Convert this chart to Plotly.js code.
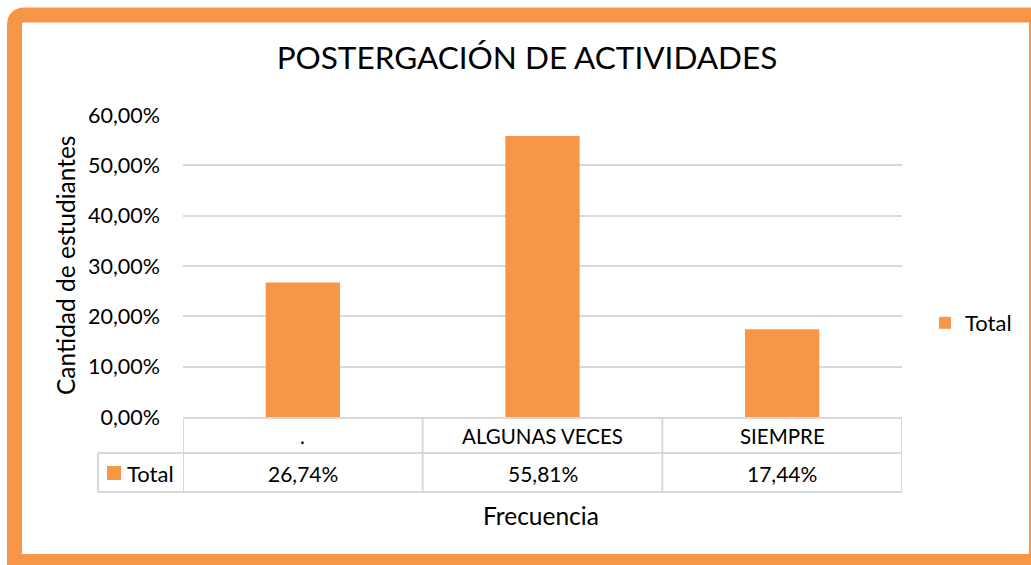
<!DOCTYPE html>
<html><head><meta charset="utf-8">
<script src="https://cdn.plot.ly/plotly-3.0.1.min.js"></script>
<style>html,body{margin:0;padding:0;background:#fff;}#chart{width:1031px;height:565px;}</style>
</head><body><div id="chart"></div>
<script>
const chartTitle = "POSTERGACIÓN DE ACTIVIDADES";
const categories = [".", "ALGUNAS VECES", "SIEMPRE"];
const seriesName = "Total";
const values = [0.2674, 0.5581, 0.1744];
const valueLabels = ["26,74%", "55,81%", "17,44%"];
const yTickVals = [0, 0.1, 0.2, 0.3, 0.4, 0.5, 0.6];
const yTickText = ["0,00%", "10,00%", "20,00%", "30,00%", "40,00%", "50,00%", "60,00%"];
const yTitle = "Cantidad de estudiantes";
const xTitle = "Frecuencia";

const W = 1031, H = 565;
const L = 183, R = 902, T = 115, B = 417;
const px = v => (v - L) / (R - L);
const py = v => (B - v) / (B - T);
const ORANGE = "#F79646";
const GRID = "#D9D9D9";
const FONT = "Lato, 'Open Sans', sans-serif";

const shapes = [];
const annotations = [];

// outer frame
shapes.push({
  type: "path", xref: "paper", yref: "paper", layer: "above",
  path: `M ${px(14.5)},${py(561.5)} L ${px(14.5)},${py(25)} Q ${px(14.5)},${py(15)} ${px(24.5)},${py(15)} L ${px(1036.5)},${py(15)} L ${px(1036.5)},${py(561.5)} Z`,
  line: {color: ORANGE, width: 15}, fillcolor: "rgba(0,0,0,0)"
});

// data table lines
const rowTop = 417, rowMid = 453, rowBot = 492, legLeft = 98;
const hline = (x0, x1, y) => shapes.push({type: "line", xref: "paper", yref: "paper", x0: px(x0), x1: px(x1), y0: py(y), y1: py(y), line: {color: GRID, width: 2}});
hline(legLeft, R, rowMid);
hline(legLeft, R, rowBot);
shapes.push({type: "line", xref: "paper", yref: "paper", x0: px(legLeft), x1: px(legLeft), y0: py(rowMid), y1: py(rowBot), line: {color: GRID, width: 2}});
for (let i = 0; i <= categories.length; i++) {
  shapes.push({type: "line", xref: "x", yref: "paper", x0: i - 0.5, x1: i - 0.5, y0: py(rowTop), y1: py(rowBot), line: {color: GRID, width: 2}});
}
// legend key in table
shapes.push({type: "rect", xref: "paper", yref: "paper", x0: px(107), x1: px(121), y0: py(480), y1: py(466), fillcolor: ORANGE, line: {width: 0}});
annotations.push({xref: "paper", yref: "paper", x: px(125), y: py(473), xanchor: "left", yanchor: "middle", text: seriesName, showarrow: false, font: {family: FONT, size: 22, color: "#000"}});

categories.forEach((c, i) => {
  annotations.push({xref: "x", yref: "paper", x: i, y: py(436), xanchor: "center", yanchor: "middle", text: c, showarrow: false, font: {family: FONT, size: 20.5, color: "#000"}});
  annotations.push({xref: "x", yref: "paper", x: i, y: py(473), xanchor: "center", yanchor: "middle", text: valueLabels[i], showarrow: false, font: {family: FONT, size: 21, color: "#000"}});
});

// axis titles
annotations.push({xref: "paper", yref: "paper", x: px(65), y: py(266), xanchor: "center", yanchor: "middle", textangle: -90, text: yTitle, showarrow: false, font: {family: FONT, size: 24.5, color: "#000"}});
annotations.push({xref: "paper", yref: "paper", x: px(541), y: py(515), xanchor: "center", yanchor: "middle", text: xTitle, showarrow: false, font: {family: FONT, size: 24.5, color: "#000"}});

const data = [{
  type: "bar", x: categories, y: values, name: seriesName,
  marker: {color: ORANGE}, width: 0.31, hoverinfo: "none"
}];

const layout = {
  width: W, height: H,
  margin: {l: L, r: W - R, t: T, b: H - B, pad: 0},
  paper_bgcolor: "#fff", plot_bgcolor: "#fff",
  font: {family: FONT, color: "#000"},
  title: {text: chartTitle, font: {family: FONT, size: 31.5, color: "#000"}, xref: "container", yref: "container", x: 527 / W, y: 1 - 58 / H, xanchor: "center", yanchor: "middle"},
  xaxis: {type: "category", range: [-0.5, 2.5], showticklabels: false, showgrid: false, zeroline: false, showline: true, linecolor: GRID, linewidth: 2, ticks: "", fixedrange: true},
  yaxis: {range: [0, 0.6], tickvals: yTickVals, ticktext: yTickText, showgrid: true, gridcolor: GRID, gridwidth: 2, zeroline: false, showline: false, ticks: "", ticklabelstandoff: 22, tickfont: {family: FONT, size: 21.5, color: "#000"}, fixedrange: true},
  showlegend: true,
  legend: {x: px(925), y: py(323), xref: "paper", yref: "paper", xanchor: "left", yanchor: "middle", font: {family: FONT, size: 22, color: "#000"}, bgcolor: "rgba(0,0,0,0)", itemwidth: 30},
  bargap: 0.69,
  shapes: shapes, annotations: annotations
};

Plotly.newPlot("chart", data, layout, {displayModeBar: false, staticPlot: true});
</script>
</body></html>
